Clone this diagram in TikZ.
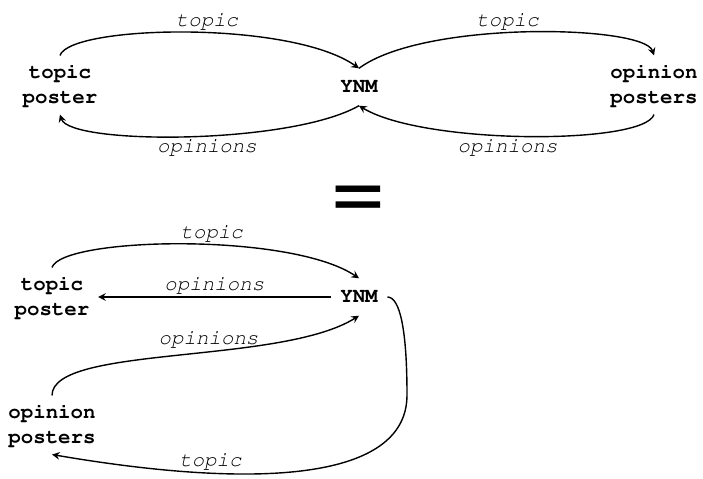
\documentclass[tikz,border=0pt]{standalone}
\usepackage[T1]{fontenc}
\renewcommand{\ttdefault}{pcr}
\renewcommand{\sfdefault}{phv}
\begin{document}
\begin{tikzpicture}[x=0.5pt, y=-0.5pt, >=stealth, line width=0.7pt,
    party/.style={font=\ttfamily\bfseries\fontsize{10.4}{12.5}\selectfont, align=center, inner sep=4pt},
    hub/.style={font=\ttfamily\bfseries\fontsize{10.4}{12.5}\selectfont, inner xsep=4.5pt, inner ysep=6pt},
    msg/.style={font=\ttfamily\itshape\fontsize{10.4}{12.5}\selectfont, inner sep=1.5pt}]
    \useasboundingbox (0,0) rectangle (703,478);
    % top: both posters go through YNM
    \node[party] (A) at (60,85) {topic\\poster};
    \node[hub] (B) at (359,87) {YNM};
    \node[party] (C) at (654,85) {opinion\\posters};
    \draw [->] (A.north) .. controls (70,25) and (290,20) .. (B.north) node[msg, pos=0.55, above] {topic};
    \draw [->] (B.north) .. controls (424,20) and (644,25) .. (C.north) node[msg, pos=0.45, above] {topic};
    \draw [->] (C.south) .. controls (644,145) and (424,145) .. (B.south) node[msg, pos=0.55, below] {opinions};
    \draw [->] (B.south) .. controls (290,145) and (70,145) .. (A.south) node[msg, pos=0.45, below] {opinions};
    \node[font=\sffamily\fontsize{46}{46}\selectfont] (eq) at (358,201) {=};
    % bottom: same flow, laid out in a row
    \node[party] (D) at (52,297) {topic\\poster};
    \node[hub] (E) at (359,297) {YNM};
    \node[party] (F) at (52,425) {opinion\\posters};
    \coordinate (R) at (407,395);
    \draw [->] (D.north) .. controls (62,237) and (290,232) .. (E.north) node[msg, pos=0.57, above] {topic};
    \draw [->] (E) -- (D) node[msg, midway, above] {opinions};
    \draw [->] (F.north) .. controls (52,345) and (280,365) .. (E.south) node[msg, pos=0.58, above] {opinions};
    \draw [->] (E.east) .. controls (400,297) and (407,330) .. (R) .. controls (407,480) and (260,490) .. (F.south) node[msg, pos=0.72, above] {topic};
\end{tikzpicture}
\end{document}
